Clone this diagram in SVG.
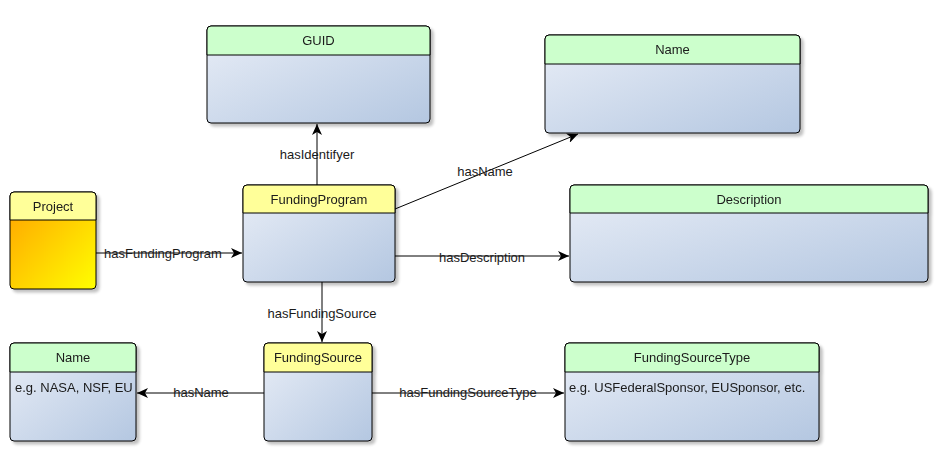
<svg xmlns="http://www.w3.org/2000/svg" width="947" height="453" viewBox="0 0 947 453">
<defs>
<linearGradient id="blue" x1="0" y1="0" x2="1" y2="1"><stop offset="0" stop-color="#E9EEF7"/><stop offset="1" stop-color="#B4C7E1"/></linearGradient>
<linearGradient id="orange" x1="0" y1="0" x2="1" y2="1"><stop offset="0" stop-color="#FFA000"/><stop offset="1" stop-color="#FFFF00"/></linearGradient>
<filter id="sh" x="-10%" y="-10%" width="130%" height="130%"><feGaussianBlur in="SourceAlpha" stdDeviation="1.5"/><feOffset dx="3" dy="3"/><feComponentTransfer><feFuncA type="linear" slope="0.25"/></feComponentTransfer><feMerge><feMergeNode/><feMergeNode in="SourceGraphic"/></feMerge></filter>
<marker id="arr" viewBox="0 0 12 10" refX="11" refY="5" markerWidth="12" markerHeight="10" markerUnits="userSpaceOnUse" orient="auto"><path d="M0,0 L11,5 L0,10 L3,5 Z" fill="#000"/></marker>
</defs>
<style>
text{font-family:"Liberation Sans",Arial,sans-serif;font-size:13px;fill:#1a1a1a}
.t{text-anchor:middle}
.box{stroke:#000;stroke-width:1}
.g{fill:#CCFFCC}
.y{fill:#FFFF99}
.b{fill:url(#blue)}
.o{fill:url(#orange)}
.c{stroke:#000;stroke-width:1;fill:none;marker-end:url(#arr)}
</style>
<g id="connectors">
<line class="c" x1="96" y1="253" x2="242" y2="253"/>
<line class="c" x1="317" y1="185" x2="317" y2="124"/>
<line class="c" x1="395" y1="209" x2="578" y2="134"/>
<line class="c" x1="395" y1="256" x2="569" y2="256"/>
<line class="c" x1="322" y1="282" x2="322" y2="342"/>
<line class="c" x1="264" y1="393" x2="137" y2="393"/>
<line class="c" x1="372" y1="393" x2="564" y2="393"/>
<text class="t" x="163" y="258">hasFundingProgram</text>
<text class="t" x="317" y="159">hasIdentifyer</text>
<text class="t" x="485" y="176">hasName</text>
<text class="t" x="482" y="262">hasDescription</text>
<text class="t" x="322" y="318">hasFundingSource</text>
<text class="t" x="201" y="397">hasName</text>
<text class="t" x="468" y="397">hasFundingSourceType</text>
</g>
<g id="guid" filter="url(#sh)">
<rect class="box b" x="207" y="26" width="223" height="97" rx="4"/>
<path class="box g" d="M207,55 V30 a4,4 0 0 1 4,-4 H426 a4,4 0 0 1 4,4 V55 Z"/>
<text class="t" x="318.5" y="45">GUID</text>
</g>
<g id="name-top" filter="url(#sh)">
<rect class="box b" x="545" y="35" width="255" height="98" rx="4"/>
<path class="box g" d="M545,64 V39 a4,4 0 0 1 4,-4 H796 a4,4 0 0 1 4,4 V64 Z"/>
<text class="t" x="672.5" y="54">Name</text>
</g>
<g id="description" filter="url(#sh)">
<rect class="box b" x="570" y="185" width="358" height="97" rx="4"/>
<path class="box g" d="M570,213 V189 a4,4 0 0 1 4,-4 H924 a4,4 0 0 1 4,4 V213 Z"/>
<text class="t" x="749" y="204">Description</text>
</g>
<g id="project" filter="url(#sh)">
<rect class="box o" x="10" y="192" width="86" height="97" rx="4"/>
<path class="box y" d="M10,220 V196 a4,4 0 0 1 4,-4 H92 a4,4 0 0 1 4,4 V220 Z"/>
<text class="t" x="53" y="211">Project</text>
</g>
<g id="fundingprogram" filter="url(#sh)">
<rect class="box b" x="243" y="185" width="152" height="97" rx="4"/>
<path class="box y" d="M243,213 V189 a4,4 0 0 1 4,-4 H391 a4,4 0 0 1 4,4 V213 Z"/>
<text class="t" x="319" y="204">FundingProgram</text>
</g>
<g id="fundingsource" filter="url(#sh)">
<rect class="box b" x="264" y="343" width="108" height="98" rx="4"/>
<path class="box y" d="M264,372 V347 a4,4 0 0 1 4,-4 H368 a4,4 0 0 1 4,4 V372 Z"/>
<text class="t" x="318" y="362">FundingSource</text>
</g>
<g id="name-bottom" filter="url(#sh)">
<rect class="box b" x="10" y="343" width="126" height="98" rx="4"/>
<path class="box g" d="M10,372 V347 a4,4 0 0 1 4,-4 H132 a4,4 0 0 1 4,4 V372 Z"/>
<text class="t" x="73" y="362">Name</text>
<text x="15" y="392">e.g. NASA, NSF, EU</text>
</g>
<g id="fundingsourcetype" filter="url(#sh)">
<rect class="box b" x="565" y="343" width="254" height="98" rx="4"/>
<path class="box g" d="M565,372 V347 a4,4 0 0 1 4,-4 H815 a4,4 0 0 1 4,4 V372 Z"/>
<text class="t" x="692" y="362">FundingSourceType</text>
<text x="569" y="392">e.g. USFederalSponsor, EUSponsor, etc.</text>
</g>
</svg>
